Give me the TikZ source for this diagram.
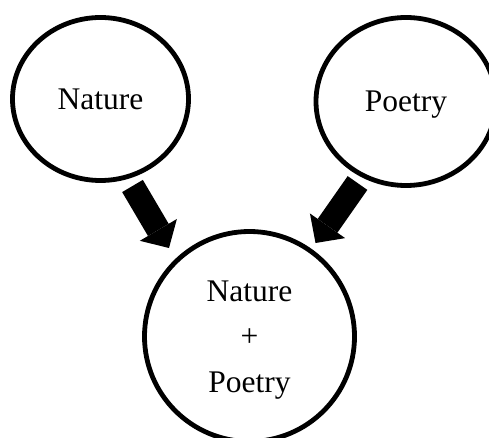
\documentclass[tikz,border=0pt]{standalone}
\usepackage{fontspec}
\setmainfont{Liberation Serif}
\usetikzlibrary{shapes.geometric,arrows.meta,calc}
\tikzset{
  bubble/.style={ellipse,draw=black,line width=4.8pt,inner sep=0pt,outer sep=0pt,
    align=center,text depth=0pt,font=\fontsize{31.5}{45.5}\selectfont},
  bigarrow/.style={draw=black,line width=24pt,
    -{Triangle[width=43pt,length=21pt,line width=0pt]}}
}
\begin{document}
\begin{tikzpicture}[x=1pt,y=-1pt]
\useasboundingbox (0,0) rectangle (489,438);
\node[bubble,minimum width=176pt,minimum height=163pt] (nat) at (100.5,99) {Nature};
\node[bubble,minimum width=180pt,minimum height=168pt] (poe) at (406,101.5) {Poetry};
\node[bubble,minimum width=210pt,minimum height=210pt] (comb) at (249.5,336.5) {Nature\\+\\Poetry};
\coordinate (ns) at ($(nat)+(32,87)$);
\coordinate (ne) at ($(comb)+(-80.5,-88.5)$);
\coordinate (ps) at ($(poe)+(-48.5,81.5)$);
\coordinate (pe) at ($(comb)+(66,-93.5)$);
\draw[bigarrow] (ns) -- (ne);
\draw[bigarrow] (ps) -- (pe);
\end{tikzpicture}
\end{document}
